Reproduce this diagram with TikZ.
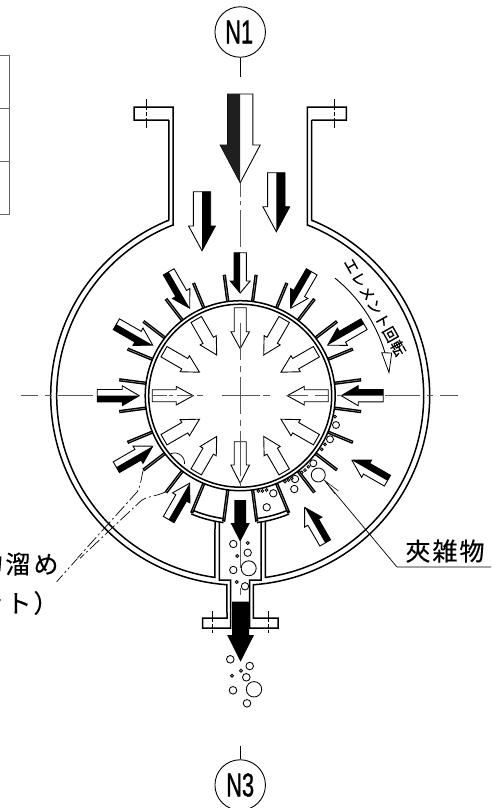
\documentclass[tikz,border=0pt]{standalone}
\usepackage{fontspec}
\usepackage{graphicx}
\newfontfamily\jpfont[FakeBold=0.35]{Noto Sans CJK JP}
\newfontfamily\labfont[FakeBold=1.2]{Liberation Sans}
% angle, tip radius, tail radius, head length
\newcommand\OutArrow[4]{%
  \begin{scope}[shift={(240.2,395.7)},rotate=-#1]
    \filldraw[arrowline,fill=white] (-6.2,-#3) -- (6.2,-#3) -- (6.2,-#2-#4) -- (10,-#2-#4) -- (0,-#2) -- (-10,-#2-#4) -- (-6.2,-#2-#4) -- cycle;
    \fill[black] (0,-#3) -- (-6.2,-#3) -- (-6.2,-#2-#4) -- (-10,-#2-#4) -- (0,-#2) -- cycle;
  \end{scope}}
\newcommand\InArrow[1]{%
  \begin{scope}[shift={(240.2,395.7)},rotate=-#1]
    \filldraw[arrowline,fill=white] (-6,-88) -- (6,-88) -- (6,-64) -- (9.3,-64) -- (0,-47) -- (-9.3,-64) -- (-6,-64) -- cycle;
  \end{scope}}
% cx, ytail, yhead, ytip, shaft half width, head half width, side (-1 left, 1 right), fill
\newcommand\VArrow[8]{%
  \filldraw[arrowline,fill=white] ({#1-#5},#2) -- ({#1+#5},#2) -- ({#1+#5},#3) -- ({#1+#6},#3) -- (#1,#4) -- ({#1-#6},#3) -- ({#1-#5},#3) -- cycle;
  \fill[#8] (#1,#2) -- ({#1+#7*#5},#2) -- ({#1+#7*#5},#3) -- ({#1+#7*#6},#3) -- (#1,#4) -- cycle;}
\tikzset{
  declare function={px(\r,\t)=240.2+\r*sin(\t);py(\r,\t)=395.7-\r*cos(\t);},
  wall/.style={line width=1.5pt,black,line join=miter},
  arrowline/.style={line width=0.9pt,black,line join=miter},
  fin/.style={line width=3.3pt,black},
  fincore/.style={line width=0.4pt,gray!50},
  centre/.style={line width=0.9pt,black!65},
  thin line/.style={line width=0.8pt,black},
  bubble/.style={line width=0.85pt,black,fill=white},
  pocketline/.style={line width=0.7pt,black,dash pattern=on 13pt off 3pt on 2pt off 3pt},
  balloon/.style={circle,draw=black,line width=0.9pt,minimum size=50.5pt,inner sep=0pt,fill=white},
  balloontext/.style={font=\labfont\fontsize{33}{33}\selectfont},
}
\begin{document}
\begin{tikzpicture}[x=1pt,y=-1pt]
\useasboundingbox (0,0) rectangle (491,808);
\clip (0,0) rectangle (491,808);
% table fragment
\draw[line width=0.9pt,black!60] (0,55.7) -- (9,55.7) -- (9,214.3) -- (0,214.3) (0,108.3) -- (9,108.3) (0,161.3) -- (9,161.3);
% balloons
\node[balloon,balloontext] (n1) at (240.2,32) {\scalebox{.66}[1]{\kern-3pt N1}};
\node[balloon,balloontext] (n3) at (240.2,785) {\scalebox{.66}[1]{N3}};
\coordinate (n1s) at (240.2,77);
\coordinate (n3s) at (240.2,746);
\draw[thin line] (n1.south) -- (n1s);
\draw[thin line] (n3.north) -- (n3s);
% shell
\draw[wall] (168.8,120) -- (134,120) -- (134,107) -- (173,107) -- (173,225) -- plot[domain=-21.5:-172.1,samples=90] ({px(183.5,\x)},{py(183.5,\x)}) -- (215,521);
\draw[wall] (168.8,120) -- (168.8,220.2) -- plot[domain=-22.1:-176,samples=90] ({px(189.5,\x)},{py(189.5,\x)}) -- (227,618) -- (202.7,618) -- (202.7,628) -- (230.7,628) -- (230.7,580) -- (219.3,580) -- (219.3,522);
\draw[wall] (311.6,120) -- (346.4,120) -- (346.4,107) -- (307.4,107) -- (307.4,225) -- plot[domain=21.5:172.1,samples=90] ({px(183.5,\x)},{py(183.5,\x)}) -- (265.4,521);
\draw[wall] (311.6,120) -- (311.6,220.2) -- plot[domain=22.1:176,samples=90] ({px(189.5,\x)},{py(189.5,\x)}) -- (253.4,618) -- (278,618) -- (278,628) -- (249.7,628) -- (249.7,580) -- (261.1,580) -- (261.1,522);
% flange centre lines
\foreach \fx/\fa/\fb in {146/99/128,334.3/99/128,212.3/611/633,268.3/611/633}{
  \draw[line width=0.6pt,black,dash pattern=on 11pt off 2pt on 4pt off 2pt] (\fx,\fa) -- (\fx,\fb);}
% fins
\foreach \a in {7.5,22.5,37.5,52.5,67.5,82.5,97.5,112.5,127.5,142.5,217.5,232.5,247.5,262.5,277.5,292.5,307.5,322.5,337.5,352.5}{
  \begin{scope}[shift={(240.2,395.7)},rotate=-\a]
    \draw[fin] (0,-94) -- (0,-122);
    \draw[fincore] (0,-96) -- (0,-121);
  \end{scope}}
% pocket walls
\foreach \a in {157.5,172.5,187.5,202.5}{
  \begin{scope}[shift={(240.2,395.7)},rotate=-\a]
    \draw[fin] (0,-94) -- (0,-127);
    \draw[fincore] (0,-96) -- (0,-125);
  \end{scope}}
\draw[wall] plot[domain=-157.5:-172.5,samples=20] ({px(124,\x)},{py(124,\x)});
\draw[wall] plot[domain=-157.5:-172.5,samples=20] ({px(128,\x)},{py(128,\x)});
\draw[wall] plot[domain=157.5:172.5,samples=20] ({px(124,\x)},{py(124,\x)});
\draw[wall] plot[domain=157.5:172.5,samples=20] ({px(128,\x)},{py(128,\x)});
% rotor rings
\draw[wall,fill=white] (240.2,395.7) circle[radius=95];
\draw[wall] (240.2,395.7) circle[radius=91.5];
% inner arrows
\foreach \a in {0,30,60,90,120,150,210,240,270,300,330}{\InArrow{\a}}
\filldraw[arrowline,fill=white] (234.2,441.7) -- (246.2,441.7) -- (246.2,465) -- (249.5,465) -- (240.2,483.3) -- (230.9,465) -- (234.2,465) -- cycle;
% outer arrows
\foreach \a in {30,60,90,210,240,270,300,330}{\OutArrow{\a}{101}{143}{17}}
\OutArrow{0}{102.7}{143}{12}
\OutArrow{120}{129}{170}{17}
\OutArrow{150}{129}{170}{17}
% top arrows
\VArrow{240.2}{94}{145}{182.7}{12.7}{20}{-1}{black!88}
\VArrow{202}{191.7}{226}{250.7}{8.7}{13.4}{1}{black}
\VArrow{276.3}{172.7}{206.7}{231.7}{8.7}{13.4}{1}{black}
% channel arrows
\fill[black] (234.4,500) -- (246,500) -- (246,523) -- (249.8,523) -- (240.2,541.7) -- (230.6,523) -- (234.4,523) -- cycle;
\fill[black] (232.2,601.7) -- (249,601.7) -- (249,635) -- (254,635) -- (240.6,661.7) -- (227.2,635) -- (232.2,635) -- cycle;
% centre lines
\foreach \p/\q in {21/38,45/52,58/93,153/167,169/173,177/193,197/203,222/260,263/270,287/308,315/328,337/342,385/420,427/433,440/458}{
  \draw[centre] (\p,395.7) -- (\q,395.7);}
\foreach \p/\q in {183/197,201/205,210/247,323/360,366/372,377/414,420/426,431/476,481/486,541/568,588/595}{
  \draw[centre] (240.2,\p) -- (240.2,\q);}
% bubbles
\foreach \bx/\by/\br in {233.3/544/3.7,247.7/543/1.5,237.3/556/1.5,247.7/552.7/3.7,248.7/568.3/7.5,233.3/570/3.7,236.7/582/1.5,245/586.3/3.7,
  230.3/659.3/3.8,249.7/666/3.8,241/670.7/1.5,232/675.7/1.5,246.3/677.3/3.8,254/689.3/7.7,233/690.3/3.8,247/703.3/3.8,
  266.7/507.3/3.7,273.3/493.3/3.7,295/479/3.7,294.3/489/3.7,318.3/475/7,313.3/463.3/3.5,330/439.3/3.5,336/425/3.5,
  321.7/449.3/1.4,325/444.3/1.4,335/416.7/1.4,308.3/466.7/1.4,305/470/1.4,301.7/472.3/1.4,291.7/478.3/1.4,288.3/480/1.4,285/481.7/1.4,266.7/490/1.4,262.3/491/1.4,258.3/491/1.4}{
  \draw[bubble] (\bx,\by) circle[radius=\br];}
% leader for inclusions
\coordinate (leadtip) at (324.6,480.5);
\coordinate (leadbend) at (397,567);
\coordinate (leadend) at (491,567);
\draw[line width=0.7pt,black] (leadtip) -- (leadbend) -- (leadend);
\draw[line width=0.5pt,black] (335,494) -- (leadtip) -- (338.5,491);
\node[font=\jpfont\fontsize{25}{25}\selectfont\addfontfeature{LetterSpace=8}] (inclusion) at (445,551) {夾雑物};
% pocket leader
\draw[line width=0.7pt,black] plot[domain=-25:95,samples=30] ({174.5+10*sin(\x)},{463-10*cos(\x)});
\draw[pocketline] (143.3,470) .. controls (141,478) and (141,486) .. (137.3,491.7) -- (77.3,558.3);
\draw[pocketline] (166,491.7) .. controls (155,497) and (146,496) .. (140,501.7) -- (80,558.3);
\draw[line width=0.7pt,black,dash pattern=on 9pt off 3pt on 2pt off 3pt on 2pt off 3pt] (56.7,581.7) -- (77,559);
\node[anchor=east,font=\jpfont\fontsize{25}{25}\selectfont\addfontfeature{LetterSpace=12}] (pocketa) at (62,564) {物溜め};
\node[anchor=east,font=\jpfont\fontsize{25}{25}\selectfont\addfontfeature{LetterSpace=8}] (pocketb) at (62,603) {ット）};
% rotation arrow
\draw[line width=0.9pt,black] plot[domain=38.9:78,samples=30] ({px(151,\x)},{py(151,\x)});
\draw[line width=0.8pt,black,fill=white,line join=miter] (381.7,352.7) -- (391.7,353) -- (389,372.5) -- cycle;
\node[rotate=-60.5,font=\jpfont\fontsize{15}{15}\selectfont\addfontfeature{LetterSpace=5}] (rot) at (375,307) {エレメント回転};
\end{tikzpicture}
\end{document}
